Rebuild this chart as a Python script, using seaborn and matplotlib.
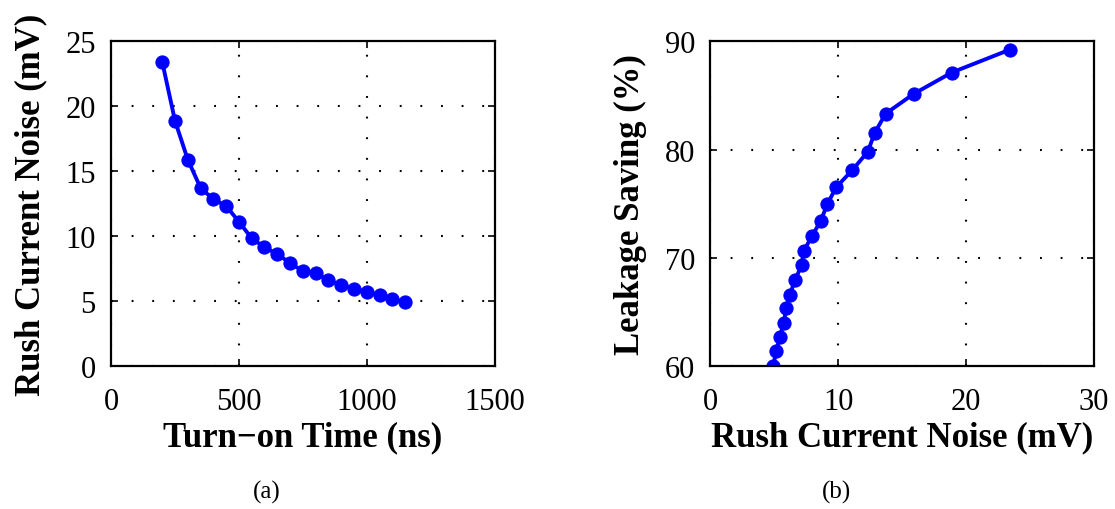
import numpy as np
import pandas as pd
import matplotlib
matplotlib.use("Agg")
import matplotlib.pyplot as plt
import seaborn as sns

# ---- data ----
turn_on_time = [200, 250, 300, 350, 400, 450, 500, 550, 600, 650,
                700, 750, 800, 850, 900, 950, 1000, 1050, 1100, 1150]
rush_noise = [23.43, 18.89, 15.90, 13.72, 12.85, 12.33, 11.12, 9.84, 9.15, 8.63,
              7.94, 7.32, 7.14, 6.63, 6.22, 5.96, 5.73, 5.45, 5.14, 4.93]
leakage_saving = [89.23, 87.12, 85.14, 83.32, 81.52, 79.82, 78.12, 76.51, 74.94, 73.39,
                  72.00, 70.64, 69.31, 67.95, 66.59, 65.35, 63.99, 62.69, 61.36, 60.00]

xticks_a = [0, 500, 1000, 1500]
yticks_a = [0, 5, 10, 15, 20, 25]
xticks_b = [0, 10, 20, 30]
yticks_b = [60, 70, 80, 90]

sns.set_style("white")
plt.rcParams['font.family'] = ['Liberation Serif', 'DejaVu Serif']
plt.rcParams['text.color'] = 'black'
plt.rcParams['axes.labelcolor'] = 'black'
plt.rcParams['xtick.color'] = 'black'
plt.rcParams['ytick.color'] = 'black'

fig = plt.figure(figsize=(11.15, 5.10), dpi=100)
ax1 = fig.add_axes([0.0996, 0.280, 0.344, 0.637])
ax2 = fig.add_axes([0.637, 0.280, 0.344, 0.637])

df_a = pd.DataFrame({"t": turn_on_time, "n": rush_noise})
df_b = pd.DataFrame({"n": rush_noise, "s": leakage_saving})

line_kw = dict(color=(0, 0, 1), linewidth=2.8, marker='o', markersize=9.5,
               markeredgecolor=(0, 0, 1), markerfacecolor=(0, 0, 1))
sns.lineplot(data=df_a, x="t", y="n", ax=ax1, sort=False, **line_kw)
sns.lineplot(data=df_b, x="n", y="s", ax=ax2, sort=False, **line_kw)

def style(ax, xt, yt, xl, yl, xlabel, ylabel):
    ax.set_xlim(*xl)
    ax.set_ylim(*yl)
    ax.set_xticks(xt)
    ax.set_yticks(yt)
    ax.set_xticklabels([str(v) for v in xt], fontsize=22)
    ax.set_yticklabels([str(v) for v in yt], fontsize=22)
    ax.grid(True, color='black', linestyle=(0, (0.9, 9.0)), linewidth=1.5)
    for s in ax.spines.values():
        s.set_visible(True)
        s.set_color('black')
        s.set_linewidth(1.6)
    ax.tick_params(direction='in', length=5, width=1.2, top=True, right=True,
                   bottom=True, left=True, colors='black')
    ax.tick_params(axis='x', pad=15)
    ax.tick_params(axis='y', pad=11)
    ax.set_xlabel(xlabel, fontsize=25, fontweight='bold', labelpad=3)
    ax.set_ylabel(ylabel, fontsize=25, fontweight='bold', labelpad=13)

style(ax1, xticks_a, yticks_a, (0, 1500), (0, 25),
      "Turn\u2212on Time (ns)", "Rush Current Noise (mV)")
style(ax2, xticks_b, yticks_b, (0, 30), (60, 90),
      "Rush Current Noise (mV)", "Leakage Saving (%)")

fig.text(0.2395, 0.035, "(a)", ha='center', va='center', fontsize=18)
fig.text(0.7505, 0.035, "(b)", ha='center', va='center', fontsize=18)

fig.savefig("out.png", dpi=100, facecolor='white')
